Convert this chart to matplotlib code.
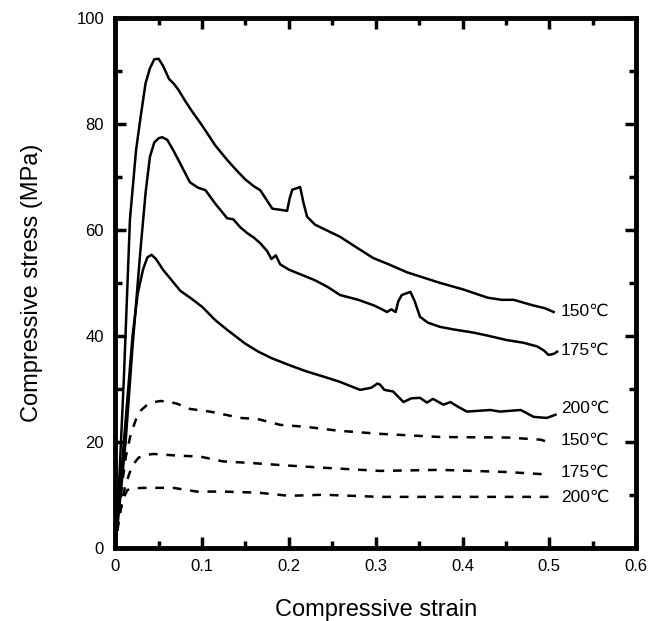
import matplotlib.pyplot as plt
from matplotlib.ticker import MultipleLocator

# solid curves
s150_x = [0, 0.005, 0.01, 0.017, 0.024, 0.029, 0.035, 0.04, 0.045, 0.05, 0.055, 0.062, 0.068, 0.073,
          0.08, 0.088, 0.098, 0.105, 0.115, 0.129, 0.14, 0.15, 0.16, 0.167, 0.175, 0.181, 0.19, 0.198,
          0.201, 0.204, 0.208, 0.213, 0.217, 0.221, 0.23, 0.245, 0.259, 0.275, 0.297, 0.315, 0.336,
          0.355, 0.374, 0.4, 0.429, 0.445, 0.459, 0.48, 0.495, 0.505]
s150_y = [0, 14, 32, 62, 75, 81, 87.7, 90.5, 92.2, 92.3, 91, 88.5, 87.5, 86.4,
          84.5, 82.5, 80.2, 78.5, 76, 73.2, 71.2, 69.5, 68.2, 67.5, 65.5, 64, 63.8, 63.6,
          66, 67.6, 67.8, 68.1, 65, 62.5, 61, 59.8, 58.7, 57, 54.7, 53.5, 52,
          51, 50, 48.8, 47.2, 46.8, 46.8, 45.8, 45.2, 44.5]

s175_x = [0, 0.005, 0.012, 0.02, 0.029, 0.035, 0.04, 0.045, 0.05, 0.054, 0.06, 0.067, 0.075, 0.086,
          0.095, 0.104, 0.115, 0.129, 0.136, 0.144, 0.152, 0.16, 0.167, 0.175, 0.18, 0.185, 0.19, 0.2,
          0.215, 0.23, 0.245, 0.259, 0.28, 0.297, 0.305, 0.313, 0.318, 0.323, 0.326, 0.33, 0.34, 0.345,
          0.351, 0.36, 0.374, 0.39, 0.413, 0.43, 0.451, 0.47, 0.486, 0.494, 0.499, 0.505, 0.509]
s175_y = [0, 8, 20, 38, 56, 67, 73.8, 76.5, 77.3, 77.5, 77, 75, 72.5, 69,
          68, 67.5, 65, 62.2, 62, 60.5, 59.4, 58.5, 57.5, 56, 54.5, 55.2, 53.5, 52.5,
          51.5, 50.5, 49.2, 47.7, 46.8, 45.8, 45.2, 44.5, 45, 44.5, 46.5, 47.7, 48.3, 46.5,
          43.6, 42.5, 41.7, 41.2, 40.6, 40, 39.2, 38.7, 38, 37.2, 36.4, 36.6, 37]

s200_x = [0, 0.005, 0.01, 0.015, 0.02, 0.026, 0.032, 0.037, 0.042, 0.047, 0.055, 0.065, 0.075, 0.088,
          0.1, 0.115, 0.13, 0.15, 0.165, 0.18, 0.2, 0.22, 0.24, 0.259, 0.282, 0.295, 0.302, 0.305,
          0.31, 0.32, 0.332, 0.341, 0.351, 0.359, 0.366, 0.378, 0.386, 0.395, 0.405, 0.432, 0.443,
          0.467, 0.482, 0.497, 0.507]
s200_y = [0, 10, 20, 30, 40, 48, 52.5, 54.8, 55.3, 54.5, 52.5, 50.5, 48.5, 47,
          45.5, 43, 41, 38.5, 37, 35.8, 34.5, 33.3, 32.3, 31.3, 29.8, 30.2, 31, 30.8,
          29.8, 29.5, 27.5, 28.2, 28.3, 27.4, 28.1, 27, 27.5, 26.6, 25.7, 26, 25.7,
          26, 24.7, 24.5, 25.1]

# dashed curves
d150_x = [0, 0.004, 0.008, 0.012, 0.018, 0.025, 0.03, 0.037, 0.045, 0.052, 0.06, 0.071, 0.086, 0.109,
          0.13, 0.144, 0.164, 0.19, 0.221, 0.256, 0.305, 0.34, 0.374, 0.452, 0.49, 0.501]
d150_y = [0, 6, 12, 17, 21.5, 24.7, 26, 27, 27.5, 27.7, 27.6, 27.2, 26.2, 25.7,
          25, 24.5, 24.3, 23.2, 22.8, 22.1, 21.5, 21.2, 20.9, 20.8, 20.4, 19.8]

d175_x = [0, 0.004, 0.008, 0.012, 0.017, 0.022, 0.027, 0.035, 0.044, 0.071, 0.098, 0.124, 0.156,
          0.2, 0.24, 0.305, 0.374, 0.45, 0.501]
d175_y = [0, 5, 9, 12, 14.3, 16, 17, 17.5, 17.7, 17.4, 17.2, 16.3, 16,
          15.5, 15.1, 14.5, 14.7, 14.3, 13.8]

d200_x = [0, 0.003, 0.006, 0.01, 0.014, 0.02, 0.032, 0.067, 0.094, 0.124, 0.164, 0.2, 0.24,
          0.305, 0.374, 0.45, 0.501]
d200_y = [0, 4, 7, 9.5, 10.9, 11.2, 11.3, 11.3, 10.6, 10.6, 10.4, 9.8, 10,
          9.6, 9.6, 9.6, 9.6]

labels = ['150\u2103', '175\u2103', '200\u2103', '150\u2103', '175\u2103', '200\u2103']
label_y = [44.7, 37.3, 26.4, 20.3, 14.3, 9.6]
x_ticks = [0, 0.1, 0.2, 0.3, 0.4, 0.5, 0.6]
x_ticklabels = ['0', '0.1', '0.2', '0.3', '0.4', '0.5', '0.6']
y_ticks = [0, 20, 40, 60, 80, 100]

plt.rcParams['font.family'] = ['Liberation Sans', 'DejaVu Sans']

fig = plt.figure(figsize=(6.62, 6.21), dpi=100)
ax = fig.add_axes([0.174, 0.118, 0.787, 0.853])

for xs, ys in [(s150_x, s150_y), (s175_x, s175_y), (s200_x, s200_y)]:
    ax.plot(xs, ys, color='black', lw=1.8)
for xs, ys in [(d150_x, d150_y), (d175_x, d175_y), (d200_x, d200_y)]:
    ax.plot(xs, ys, color='black', lw=1.8, dashes=(3.5, 3.5))

for lab, yy in zip(labels, label_y):
    ax.text(0.513, yy, lab, fontsize=12.5, va='center', ha='left')

ax.set_xlim(0, 0.6)
ax.set_ylim(0, 100)
ax.set_xticks(x_ticks)
ax.set_xticklabels(x_ticklabels)
ax.set_yticks(y_ticks)
ax.set_yticklabels([str(v) for v in y_ticks])
ax.xaxis.set_minor_locator(MultipleLocator(0.05))
ax.yaxis.set_minor_locator(MultipleLocator(10))

ax.tick_params(which='both', direction='in', top=True, right=True, width=2.5, labelsize=12, pad=8)
ax.tick_params(which='major', length=8)
ax.tick_params(which='minor', length=5)
for sp in ax.spines.values():
    sp.set_linewidth(3.5)

ax.set_xlabel('Compressive strain', fontsize=17, labelpad=18)
ax.set_ylabel('Compressive stress (MPa)', fontsize=17, labelpad=24)

fig.savefig('out.png', dpi=100)
